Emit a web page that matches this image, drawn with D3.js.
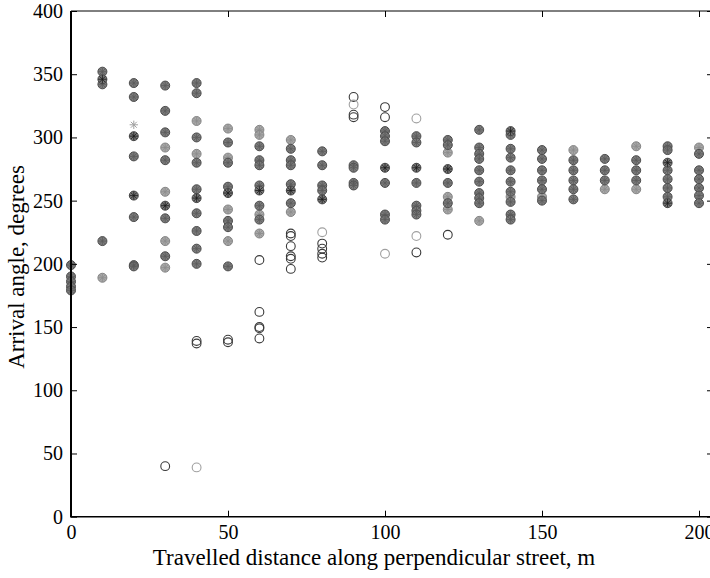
<!DOCTYPE html>
<html>
<head>
<meta charset="utf-8">
<script src="https://cdn.jsdelivr.net/npm/d3@7"></script>
<style>
  body { margin: 0; background: #fff; }
  svg { display: block; font-family: "Liberation Serif", "Times New Roman", serif; }
</style>
</head>
<body>
<svg id="chart" width="710" height="578"></svg>
<script>
// travelled distance (m), one column of markers each
const distances = [0, 10, 20, 30, 40, 50, 60, 70, 80, 90, 100, 110, 120, 130, 140, 150, 160, 170, 180, 190, 200];

// arrival angles (degrees), aligned with distances
const midAngles = [
    [199, 190, 186, 182, 179],
    [352, 342, 218],
    [343, 332, 285, 237, 199, 198],
    [341, 321, 304, 282, 236, 206],
    [343, 335, 300, 280, 259, 240, 226, 212, 200],
    [296, 280, 261, 234, 229, 198],
    [293, 282, 278, 262, 246, 235],
    [291, 282, 278, 263, 248],
    [289, 278, 262, 258],
    [278, 276, 264, 262],
    [305, 301, 297, 264, 239, 235],
    [301, 296, 264, 246, 242, 239],
    [298, 294, 264, 248],
    [306, 292, 287, 283, 274, 265, 256, 252, 248],
    [302, 291, 284, 274, 265, 257, 249, 239, 235],
    [290, 283, 274, 266, 259, 250],
    [282, 274, 266, 259, 251],
    [283, 274, 266],
    [282, 274, 266],
    [293, 290, 274, 267, 260, 253],
    [287, 274, 267, 260, 254, 248]
];
const lightAngles = [
    [], [189], [], [292, 257, 218, 197], [313, 287], [307, 284, 243, 218],
    [306, 302, 239, 224], [298, 241], [], [], [], [],
    [288, 253, 243], [234], [253], [253], [290], [259], [293, 259], [], [292]
];
const darkStarAngles = [
    [], [346], [301, 254], [246], [252], [256], [258], [258], [251], [], [276], [276],
    [275], [], [305], [], [], [], [], [280, 248], []
];
// asterisk only, no circle
const lightStarAngles = [
    [], [], [310], [], [], [], [], [], [], [], [], [], [], [], [], [], [], [], [], [], []
];
// open circles
const darkRingAngles = [
    [], [], [], [40], [139, 137], [140, 138], [203, 162, 150, 149, 141],
    [224, 222, 214, 206, 204, 196], [216, 212, 208, 205], [332, 318, 316],
    [324, 316], [209], [223], [], [], [], [], [], [], [], []
];
const lightRingAngles = [
    [], [], [], [], [39], [], [], [], [225], [326], [208], [315, 222],
    [], [], [], [], [], [], [], [], []
];

const xTicks = [0, 50, 100, 150, 200];
const yTicks = [0, 50, 100, 150, 200, 250, 300, 350, 400];

const svg = d3.select("#chart");
const marginLeft = 71, boxRight = 713, marginTop = 11, axisY = 516.7;

const x = d3.scaleLinear().domain([0, 200]).range([marginLeft, 699]);
const y = d3.scaleLinear().domain([0, 400]).range([axisY, marginTop]);

function flat(arr) {
    const out = [];
    arr.forEach((angles, i) => angles.forEach(a => out.push([distances[i], a])));
    return out;
}

// 8-arm asterisk like matlab's '*'
const asterisk = {
    draw(context, size) {
        const r = Math.sqrt(size) / 2;
        const d = r * Math.SQRT1_2;
        context.moveTo(-r, 0); context.lineTo(r, 0);
        context.moveTo(0, -r); context.lineTo(0, r);
        context.moveTo(-d, -d); context.lineTo(d, d);
        context.moveTo(-d, d); context.lineTo(d, -d);
    }
};

const plot = svg.append("g");

function addFilled(points, fill, ring, spokes) {
    const g = plot.append("g");
    g.selectAll("circle")
        .data(points)
        .enter()
        .append("circle")
        .attr("cx", d => x(d[0]))
        .attr("cy", d => y(d[1]))
        .attr("r", 4.5)
        .attr("fill", fill)
        .attr("stroke", ring)
        .attr("stroke-width", 1);
    g.selectAll("path")
        .data(points)
        .enter()
        .append("path")
        .attr("d", d3.symbol(asterisk).size(70))
        .attr("transform", d => `translate(${x(d[0])},${y(d[1])})`)
        .attr("fill", "none")
        .attr("stroke", spokes)
        .attr("stroke-width", 0.8);
}

function addRings(points, color) {
    plot.append("g").selectAll("circle")
        .data(points)
        .enter()
        .append("circle")
        .attr("cx", d => x(d[0]))
        .attr("cy", d => y(d[1]))
        .attr("r", 4.4)
        .attr("fill", "none")
        .attr("stroke", color)
        .attr("stroke-width", 1.1);
}

addRings(flat(darkRingAngles), "#3a3a3a");
addRings(flat(lightRingAngles), "#a0a0a0");
addFilled(flat(lightAngles), "#a8a8a8", "#858585", "#8c8c8c");
addFilled(flat(midAngles), "#7c7c7c", "#4c4c4c", "#5a5a5a");
addFilled(flat(darkStarAngles), "#777", "#474747", "#1a1a1a");

plot.append("g").selectAll("path")
    .data(flat(lightStarAngles))
    .enter()
    .append("path")
    .attr("d", d3.symbol(asterisk).size(70))
    .attr("transform", d => `translate(${x(d[0])},${y(d[1])})`)
    .attr("fill", "none")
    .attr("stroke", "#a0a0a0")
    .attr("stroke-width", 1);

// axes, ticks pointing inward
svg.append("g")
    .attr("transform", `translate(${marginLeft},0)`)
    .call(d3.axisLeft(y).tickValues(yTicks).tickSizeInner(-6).tickSizeOuter(0).tickPadding(8));
svg.append("g")
    .attr("transform", `translate(0,${axisY})`)
    .call(d3.axisBottom(x).tickValues(xTicks).tickSizeInner(-6).tickSizeOuter(0).tickPadding(8));
svg.append("g")
    .attr("transform", `translate(0,${marginTop})`)
    .call(d3.axisTop(x).tickValues(xTicks).tickSizeInner(-6).tickSizeOuter(0).tickFormat(""));
svg.append("g")
    .attr("transform", `translate(${boxRight},0)`)
    .call(d3.axisRight(y).tickValues(yTicks).tickSizeInner(-6).tickSizeOuter(0).tickFormat(""));

svg.selectAll(".domain").remove();
svg.selectAll(".tick line").attr("stroke", "#000").attr("stroke-width", 1);
svg.selectAll(".tick text")
    .attr("font-family", "'Liberation Serif', serif")
    .attr("font-size", 20)
    .attr("fill", "#000");

// box
svg.append("line").attr("x1", marginLeft).attr("x2", marginLeft).attr("y1", marginTop).attr("y2", axisY)
    .attr("stroke", "#000").attr("stroke-width", 2);
svg.append("line").attr("x1", marginLeft - 1).attr("x2", boxRight).attr("y1", axisY).attr("y2", axisY)
    .attr("stroke", "#000").attr("stroke-width", 1.5);
svg.append("line").attr("x1", marginLeft).attr("x2", boxRight).attr("y1", marginTop).attr("y2", marginTop)
    .attr("stroke", "#000").attr("stroke-width", 1);
svg.append("line").attr("x1", boxRight).attr("x2", boxRight).attr("y1", marginTop).attr("y2", axisY)
    .attr("stroke", "#000").attr("stroke-width", 1);

svg.append("text")
    .attr("x", 374)
    .attr("y", 565)
    .attr("text-anchor", "middle")
    .attr("font-size", 23)
    .text("Travelled distance along perpendicular street, m");

svg.append("text")
    .attr("transform", `translate(24,267) rotate(-90)`)
    .attr("text-anchor", "middle")
    .attr("font-size", 23)
    .text("Arrival angle, degrees");
</script>
</body>
</html>
